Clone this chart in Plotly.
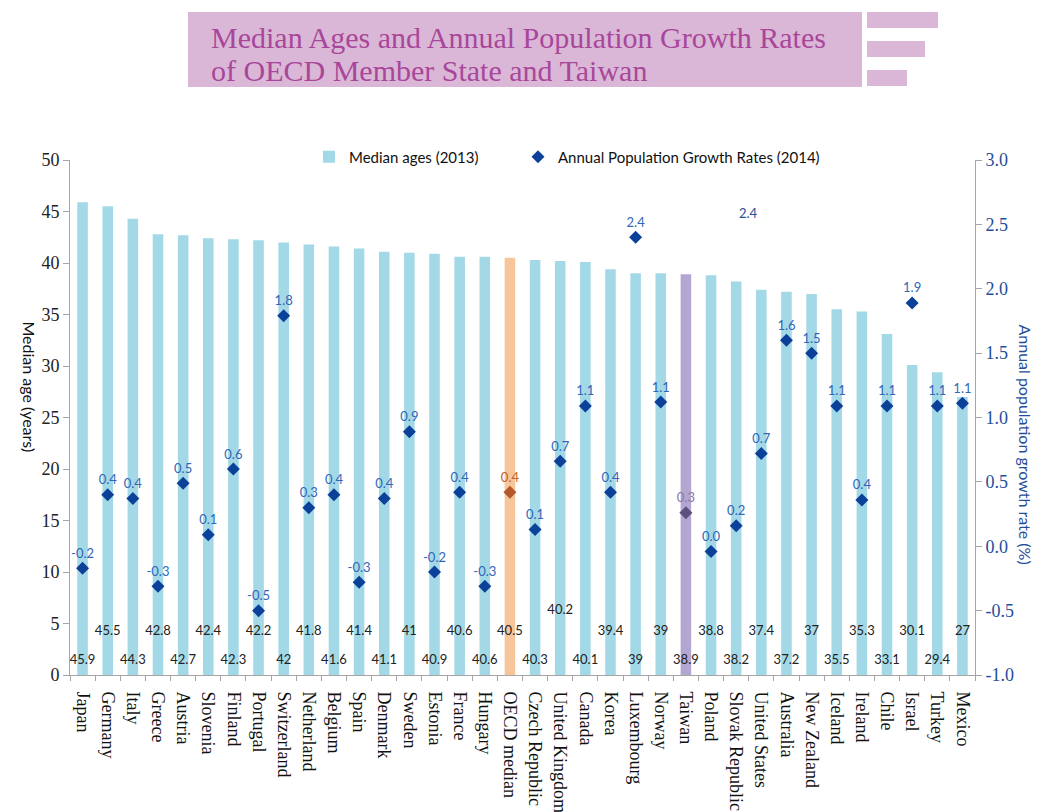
import plotly.graph_objects as go

countries = ["Japan", "Germany", "Italy", "Greece", "Austria", "Slovenia", "Finland", "Portugal",
             "Switzerland", "Netherland", "Belgium", "Spain", "Denmark", "Sweden", "Estonia", "France",
             "Hungary", "OECD median", "Czech Republic", "United Kingdom", "Canada", "Korea", "Luxembourg",
             "Norway", "Taiwan", "Poland", "Slovak Republic", "United States", "Australia", "New Zealand",
             "Iceland", "Ireland", "Chile", "Israel", "Turkey", "Mexico"]
median_age = [45.9, 45.5, 44.3, 42.8, 42.7, 42.4, 42.3, 42.2, 42, 41.8, 41.6, 41.4, 41.1, 41, 40.9, 40.6,
              40.6, 40.5, 40.3, 40.2, 40.1, 39.4, 39, 39, 38.9, 38.8, 38.2, 37.4, 37.2, 37, 35.5, 35.3,
              33.1, 30.1, 29.4, 27]
growth = [-0.17, 0.40, 0.37, -0.31, 0.49, 0.09, 0.60, -0.50, 1.79, 0.30, 0.40, -0.28, 0.37, 0.89, -0.20,
          0.42, -0.31, 0.42, 0.13, 0.66, 1.09, 0.42, 2.40, 1.12, 0.26, -0.04, 0.16, 0.72, 1.60, 1.50,
          1.09, 0.36, 1.09, 1.89, 1.09, 1.11]
y2_ticks = [-1.0, -0.5, 0.0, 0.5, 1.0, 1.5, 2.0, 2.5, 3.0]
y2_ticktext = ["-1.0", "-0.5", "0.0", "0.5", "1.0", "1.5", "2.0", "2.5", "3.0"]
stray_label = "2.4"

BAR = "#a3d8e6"
OECD_BAR = "#f7c59a"
TW_BAR = "#b3a6d0"
MK = "#0b4199"
SERIF = "Liberation Serif, Times New Roman, serif"
SANS = "Lato, Open Sans, sans-serif"

# page body has an 8px margin -> shift everything up/left by 8px
OFF = 8
W, H = 1046 - OFF, 812 - OFF
PL, PR, PT, PB = 70, 975, 160, 675  # plot area in reference pixels
PW, PH = PR - PL, PB - PT


def px(x):
    return (x - PL) / PW


def py(y):
    return (PB - y) / PH


bar_colors = [OECD_BAR if c == "OECD median" else TW_BAR if c == "Taiwan" else BAR for c in countries]
mk_colors = ["#b3592a" if c == "OECD median" else "#5e4f80" if c == "Taiwan" else MK for c in countries]
lbl_colors = ["#c0622e" if c == "OECD median" else "#8a7aaa" if c == "Taiwan" else "#2f66b8" for c in countries]


def fmt(v):
    s = f"{v:.1f}"
    return "0.0" if s == "-0.0" else s


def fmt_age(v):
    return f"{v:g}"


label_y = [1.4 if i % 2 == 0 else 4.2 for i in range(len(countries))]
label_y[countries.index("United Kingdom")] = 6.2

fig = go.Figure()
fig.add_trace(go.Bar(x=countries, y=median_age, name="Median ages (2013)", marker_color=bar_colors,
                     width=0.42, marker_line_width=0, legend="legend"))
fig.add_trace(go.Scatter(x=countries, y=label_y, mode="text", text=[fmt_age(v) for v in median_age],
                         textfont=dict(family=SANS, size=13, color="#222222"), showlegend=False,
                         hoverinfo="skip"))
fig.add_trace(go.Scatter(x=countries, y=growth, yaxis="y2", mode="markers+text",
                         name="Annual Population Growth Rates (2014)", legend="legend2",
                         marker=dict(symbol="diamond", size=10, color=mk_colors),
                         text=[fmt(v) for v in growth], textposition="top center",
                         textfont=dict(family=SANS, size=13, color=lbl_colors)))

legend_common = dict(orientation="h", y=py(157), xanchor="left", yanchor="middle",
                     font=dict(family=SANS, size=15, color="#111111"), itemwidth=30,
                     bgcolor="rgba(0,0,0,0)")

fig.update_layout(
    width=W, height=H,
    margin=dict(l=PL - OFF, r=W - (PR - OFF), t=PT - OFF, b=H - (PB - OFF), autoexpand=False),
    plot_bgcolor="white", paper_bgcolor="white",
    showlegend=True,
    legend=dict(x=px(309), **legend_common),
    legend2=dict(x=px(518), **legend_common),
    xaxis=dict(type="category", tickangle=90, tickfont=dict(family=SERIF, size=18, color="#111111"),
               showline=True, linecolor="#a6a6a6", ticks="outside", tickson="boundaries", ticklen=5,
               tickcolor="#a6a6a6", showgrid=False, range=[-0.5, len(countries) - 0.5],
               ticklabelstandoff=12),
    yaxis=dict(range=[0, 50], dtick=5, showgrid=False, showline=True, linecolor="#a6a6a6",
               ticks="outside", ticklen=6, tickcolor="#a6a6a6", zeroline=False,
               tickfont=dict(family=SERIF, size=18, color="#222222")),
    yaxis2=dict(range=[-1, 3], tickmode="array", tickvals=y2_ticks, ticktext=y2_ticktext,
                overlaying="y", side="right",
                showgrid=False, showline=True, linecolor="#a6a6a6", ticks="outside", ticklen=6,
                tickcolor="#a6a6a6", zeroline=False,
                tickfont=dict(family=SERIF, size=18, color="#1f4e9c")),
)

# title banner
BANNER = "#dbb7d7"
fig.add_shape(type="rect", xref="paper", yref="paper", x0=px(188), x1=px(862),
              y0=py(87), y1=py(12), fillcolor=BANNER, line_width=0, layer="below")
for (a, b, c, d) in [(867, 938, 12, 28), (867, 925, 41, 57), (867, 907, 70, 86)]:
    fig.add_shape(type="rect", xref="paper", yref="paper", x0=px(a), x1=px(b),
                  y0=py(d), y1=py(c), fillcolor=BANNER, line_width=0)
for txt, yy in [("Median Ages and Annual Population Growth Rates", 37),
                ("of OECD Member State and Taiwan", 70)]:
    fig.add_annotation(xref="paper", yref="paper", x=px(209), y=py(yy),
                       xanchor="left", yanchor="middle", showarrow=False, text=txt,
                       font=dict(family=SERIF, size=30, color="#a8479a"))

# axis titles
fig.add_annotation(xref="paper", yref="paper", x=px(18), y=py(387), textangle=90, showarrow=False,
                   text="Median age (years)", font=dict(family=SANS, size=16, color="#111111"))
fig.add_annotation(xref="paper", yref="paper", x=px(1037), y=py(444), textangle=90, showarrow=False,
                   text="Annual population growth rate (%)", font=dict(family=SANS, size=16, color="#1f4e9c"))

# stray label present in the original
fig.add_annotation(xref="x", yref="y2", x=26.5, y=2.59, showarrow=False, text=stray_label,
                   font=dict(family=SANS, size=13, color="#1f4e9c"))

fig.write_html("out.html")
